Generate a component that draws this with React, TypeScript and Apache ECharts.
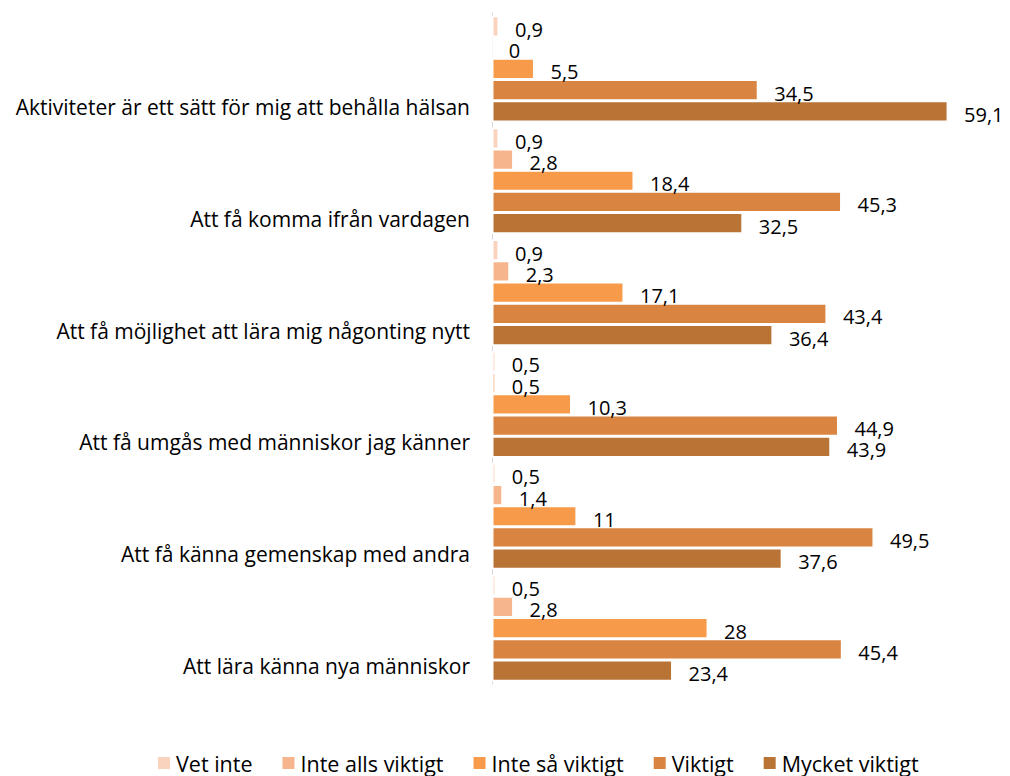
import React, { useEffect, useRef } from "react";
import * as echarts from "echarts";

const categories = [
  "Aktiviteter är ett sätt för mig att behålla hälsan",
  "Att få komma ifrån vardagen",
  "Att få möjlighet att lära mig någonting nytt",
  "Att få umgås med människor jag känner",
  "Att få känna gemenskap med andra",
  "Att lära känna nya människor",
];
const seriesNames = ["Vet inte", "Inte alls viktigt", "Inte så viktigt", "Viktigt", "Mycket viktigt"];
const vetInte = [0.9, 0.9, 0.9, 0.5, 0.5, 0.5];
const inteAlls = [0, 2.8, 2.3, 0.5, 1.4, 2.8];
const inteSa = [5.5, 18.4, 17.1, 10.3, 11, 28];
const viktigt = [34.5, 45.3, 43.4, 44.9, 49.5, 45.4];
const mycket = [59.1, 32.5, 36.4, 43.9, 37.6, 23.4];
const colors = ["#FAD3BF", "#F7B58E", "#F79A4A", "#DA8441", "#B97335"];

const FONT = "'Open Sans', sans-serif";

export default function App() {
  const ref = useRef<HTMLDivElement>(null);
  useEffect(() => {
    document.body.style.margin = "0";
    const chart = echarts.init(ref.current!, null, { renderer: "svg" });
    const data = [vetInte, inteAlls, inteSa, viktigt, mycket];
    chart.setOption({
      animation: false,
      textStyle: { fontFamily: FONT },
      grid: {
        left: 492,
        right: 55,
        top: 13,
        bottom: 776 - 684,
        containLabel: false,
        outerBoundsMode: "none",
      },
      legend: {
        data: seriesNames,
        left: 156,
        top: 752,
        padding: 0,
        itemWidth: 14,
        itemHeight: 14,
        itemGap: 28,
        icon: "rect",
        textStyle: { fontSize: 21.5, color: "#000", fontFamily: FONT, lineHeight: 20 },
      },
      xAxis: {
        type: "value",
        min: 0,
        max: 60,
        show: false,
      },
      yAxis: {
        type: "category",
        data: categories,
        inverse: true,
        axisLine: { show: true, lineStyle: { color: "#D9D9D9", width: 1 } },
        axisTick: { show: false },
        axisLabel: {
          interval: 0,
          fontSize: 21,
          color: "#000",
          fontFamily: FONT,
          margin: 22,
          lineHeight: 76,
          formatter: (v: string) => "\n" + v,
        },
      },
      series: seriesNames.map((name, i) => ({
        name,
        type: "bar",
        data: data[i],
        barGap: "0%",
        barCategoryGap: "5%",
        itemStyle: { color: colors[i], borderColor: "#fff", borderWidth: 1.5 },
        label: {
          show: true,
          position: "right",
          distance: 16,
          offset: [0, 3],
          fontSize: 20,
          lineHeight: 16,
          color: "#000",
          fontFamily: FONT,
          formatter: (p: any) => String(p.value).replace(".", ","),
        },
      })),
    });
    return () => chart.dispose();
  }, []);
  return <div ref={ref} style={{ width: 1010, height: 776 }} />;
}
